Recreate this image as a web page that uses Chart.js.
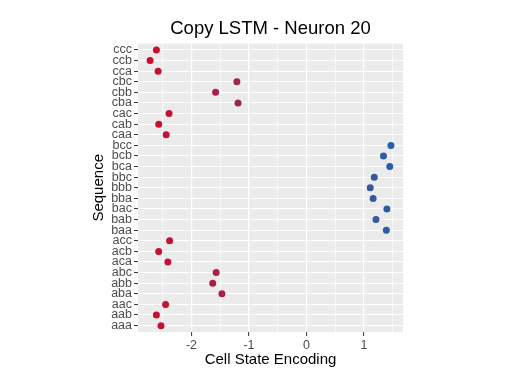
<!DOCTYPE html>
<html>
<head>
<meta charset="utf-8">
<script src="https://cdn.jsdelivr.net/npm/chart.js@4.4.1/dist/chart.umd.min.js"></script>
<style>
  html, body { margin: 0; padding: 0; background: #fff; }
  #wrap { width: 510px; height: 385px; }
</style>
</head>
<body>
<div id="wrap"><canvas id="chart" width="510" height="385"></canvas></div>
<script>
// Sequences, bottom to top (ggplot puts the first level at the bottom)
const sequences = [
  'aaa', 'aab', 'aac', 'aba', 'abb', 'abc', 'aca', 'acb', 'acc',
  'baa', 'bab', 'bac', 'bba', 'bbb', 'bbc', 'bca', 'bcb', 'bcc',
  'caa', 'cab', 'cac', 'cba', 'cbb', 'cbc', 'cca', 'ccb', 'ccc'
];
const cellState = [
  -2.53, -2.61, -2.45, -1.47, -1.63, -1.57, -2.41, -2.57, -2.38,
  1.39, 1.21, 1.40, 1.16, 1.11, 1.18, 1.45, 1.34, 1.47,
  -2.44, -2.57, -2.39, -1.19, -1.58, -1.21, -2.58, -2.72, -2.61
];
const xTickValues = [-2.5, -2, -1.5, -1, -0.5, 0, 0.5, 1, 1.5];
const chartTitle = 'Copy LSTM - Neuron 20';

// colour gradient low (red) -> high (blue)
const lowCol = [200, 16, 46];
const highCol = [40, 95, 170];
const vMin = Math.min(...cellState);
const vMax = Math.max(...cellState);
function gradColor(v) {
  const t = Math.pow((v - vMin) / (vMax - vMin), 1.25);
  const c = lowCol.map((lo, i) => Math.round(lo + (highCol[i] - lo) * t));
  return `rgb(${c[0]},${c[1]},${c[2]})`;
}

const points = cellState.map((v, i) => ({ x: v, y: i }));
const colors = cellState.map(gradColor);

const FONT = 'Liberation Sans, Arial, Helvetica, sans-serif';

// grey panel behind the grid, and a title centred over the panel (ggplot style)
const panel = {
  id: 'panel',
  beforeDraw(chart) {
    const { ctx, chartArea: a } = chart;
    ctx.save();
    ctx.fillStyle = '#ebebeb';
    ctx.fillRect(a.left, a.top, a.right - a.left, a.bottom - a.top);
    ctx.restore();
  },
  afterDraw(chart) {
    const { ctx, chartArea: a } = chart;
    ctx.save();
    ctx.fillStyle = '#000';
    ctx.font = `18.5px ${FONT}`;
    ctx.textAlign = 'center';
    ctx.textBaseline = 'alphabetic';
    ctx.fillText(chartTitle, (a.left + a.right) / 2, 34);
    ctx.restore();
  }
};

new Chart(document.getElementById('chart'), {
  type: 'scatter',
  data: {
    datasets: [{
      data: points,
      pointBackgroundColor: colors,
      pointBorderColor: colors,
      pointRadius: 3.5,
      pointBorderWidth: 0,
    }],
  },
  options: {
    responsive: false,
    animation: false,
    layout: { padding: { left: 0, right: 107, top: 43.6, bottom: 0 } },
    plugins: {
      legend: { display: false },
      tooltip: { enabled: false },
      title: { display: false },
    },
    scales: {
      x: {
        type: 'linear',
        min: -2.93,
        max: 1.68,
        afterBuildTicks: scale => { scale.ticks = xTickValues.map(v => ({ value: v })); },
        afterFit: scale => { scale.height = 53; },
        border: { display: false },
        grid: {
          color: '#ffffff',
          lineWidth: ctx => (ctx.tick && Number.isInteger(ctx.tick.value) ? 1.2 : 0.6),
          tickColor: ctx => (ctx.tick && Number.isInteger(ctx.tick.value) ? '#333333' : 'rgba(0,0,0,0)'),
          tickLength: 4,
          tickWidth: 1,
        },
        ticks: {
          autoSkip: false,
          maxRotation: 0,
          color: '#4d4d4d',
          padding: 2,
          font: { family: FONT, size: 12.5 },
          callback: v => (Number.isInteger(v) ? String(v) : ''),
        },
        title: {
          display: true,
          text: 'Cell State Encoding',
          color: '#000',
          font: { family: FONT, size: 15 },
          padding: { top: 0, bottom: 16 },
        },
      },
      y: {
        type: 'linear',
        min: -0.6,
        max: sequences.length - 0.4,
        afterBuildTicks: scale => { scale.ticks = sequences.map((_, i) => ({ value: i })); },
        afterFit: scale => { scale.width = 138; },
        border: { display: false },
        grid: {
          color: '#ffffff',
          lineWidth: 1.1,
          tickColor: '#333333',
          tickLength: 4,
          tickWidth: 1,
        },
        ticks: {
          autoSkip: false,
          color: '#4d4d4d',
          padding: 2,
          font: { family: FONT, size: 12.5 },
          callback: v => sequences[v] || '',
        },
        title: {
          display: true,
          text: 'Sequence',
          color: '#000',
          font: { family: FONT, size: 15 },
          padding: { top: 90, bottom: 0 },
        },
      },
    },
  },
  plugins: [panel],
});
</script>
</body>
</html>
